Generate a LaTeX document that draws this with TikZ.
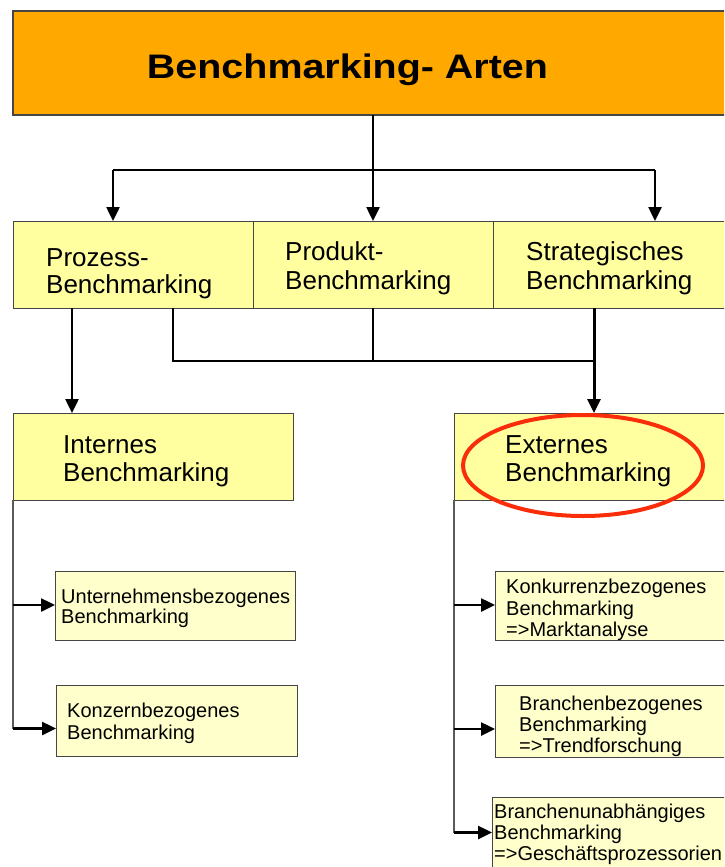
\documentclass[tikz,border=0pt]{standalone}
\usepackage{fontspec}
\setmainfont{Liberation Sans}
\usetikzlibrary{arrows.meta,shapes.geometric}
\definecolor{orangeT}{RGB}{255,168,0}
\definecolor{yelM}{RGB}{255,255,160}
\definecolor{yelS}{RGB}{255,255,204}
\definecolor{hlred}{RGB}{250,45,10}
\definecolor{bord}{RGB}{70,70,70}
\definecolor{sidegray}{RGB}{90,90,90}
\begin{document}
\begin{tikzpicture}[x=1pt,y=-1pt,
  box/.style={draw=bord, line width=1pt, rectangle, anchor=north west, inner sep=0pt, outer sep=0pt},
  midbox/.style={box, fill=yelM},
  smallbox/.style={box, fill=yelS},
  bigtxt/.style={anchor=base west, inner sep=0pt, font=\fontsize{26}{28}\selectfont},
  smalltxt/.style={anchor=base west, inner sep=0pt, font=\fontsize{20}{21}\selectfont},
  stem/.style={line width=1.5pt, black},
  conn/.style={line width=2pt, black},
  side/.style={line width=1.5pt, sidegray},
  arr/.style={line width=2.5pt, black, -{Triangle[length=14pt,width=13pt]}},
  heavyarr/.style={line width=3pt, black, -{Triangle[length=14pt,width=13pt]}}
]
\useasboundingbox (0,0) rectangle (724,867);
\clip (0,0) rectangle (724,867);

% title
\node[box, draw=bord, line width=1.5pt, fill=orangeT, minimum width=720pt, minimum height=104pt] (title) at (13,11) {};
\node[anchor=base, inner sep=0pt, font=\fontsize{34}{40}\selectfont\bfseries] (titleT) at (347.5,78) {\scalebox{1.16}[1]{Benchmarking- Arten}};

% middle row
\node[midbox, minimum width=240pt, minimum height=87pt] (proz) at (13,221) {};
\node[midbox, minimum width=240pt, minimum height=87pt] (prod) at (253,221) {};
\node[midbox, minimum width=240pt, minimum height=87pt] (strat) at (493,221) {};
\node[bigtxt] (prozA) at (46,266) {Prozess-};
\node[bigtxt] (prozB) at (46,293.5) {Benchmarking};
\node[bigtxt] (prodA) at (285,260) {Produkt-};
\node[bigtxt] (prodB) at (285,289) {Benchmarking};
\node[bigtxt] (stratA) at (526,260) {Strategisches};
\node[bigtxt] (stratB) at (526,289) {Benchmarking};

% intern / extern
\node[midbox, minimum width=280pt, minimum height=87pt] (intern) at (13,413) {};
\node[midbox, minimum width=300pt, minimum height=87pt] (extern) at (454,413) {};
\node[bigtxt] (internA) at (63,453) {Internes};
\node[bigtxt] (internB) at (63,481.7) {Benchmarking};
\node[bigtxt] (externA) at (505,453) {Externes};
\node[bigtxt] (externB) at (505,481.7) {Benchmarking};
\node[draw=hlred, ellipse, line width=4pt, minimum width=240pt, minimum height=101pt, inner sep=0pt] (hl) at (583,465.5) {};

% small boxes
\node[smallbox, minimum width=240pt, minimum height=69pt] (unt) at (55,571) {};
\node[smallbox, minimum width=241pt, minimum height=71pt] (konz) at (56,685) {};
\node[smallbox, minimum width=240pt, minimum height=69pt] (konk) at (495,571) {};
\node[smallbox, minimum width=240pt, minimum height=72pt] (bran) at (495,685) {};
\node[smallbox, minimum width=240pt, minimum height=80pt] (unab) at (492,797) {};

\node[smalltxt] (untA) at (61,603.3) {Unternehmensbezogenes};
\node[smalltxt] (untB) at (61,623.5) {Benchmarking};
\node[smalltxt] (konzA) at (67,717) {Konzernbezogenes};
\node[smalltxt] (konzB) at (67,739) {Benchmarking};
\node[smalltxt] (konkA) at (506,593) {Konkurrenzbezogenes};
\node[smalltxt] (konkB) at (506,615) {Benchmarking};
\node[smalltxt] (konkC) at (506,636) {=>Marktanalyse};
\node[smalltxt] (branA) at (519,710) {Branchenbezogenes};
\node[smalltxt] (branB) at (519,731.7) {Benchmarking};
\node[smalltxt] (branC) at (519,752.7) {=>Trendforschung};
\node[smalltxt] (unabA) at (494,818) {Branchenunabhängiges};
\node[smalltxt] (unabB) at (494,839) {Benchmarking};
\node[smalltxt] (unabC) at (494,860.5) {=>Geschäftsprozessorien};

% top connectors
\coordinate (jT) at (373,170);
\coordinate (jL) at (113,170);
\coordinate (jR) at (655,170);
\draw[stem] (title.south) -- (jT);
\draw[conn] (jL) -- (jR);
\draw[arr] (jL) -- (jL |- proz.north);
\draw[arr] (jT) -- (prod.north);
\draw[arr] (jR) -- (jR |- strat.north);

% middle connectors
\coordinate (xA) at (72,0);
\coordinate (bL) at (173,361);
\coordinate (bR) at (594,361);
\draw[arr] (xA |- proz.south) -- (xA |- intern.north);
\draw[conn] (bL |- proz.south) -- (bL) -- (bR);
\draw[stem] (prod.south) -- (prod.south |- bR);
\draw[heavyarr] (bR |- strat.south) -- (bR |- extern.north);

% left branch
\coordinate (l1) at (13,605);
\coordinate (l2) at (13,728.5);
\draw[side] (intern.south west) -- (l2);
\draw[arr] (l1) -- (l1 -| unt.west);
\draw[arr] (l2) -- (l2 -| konz.west);

% right branch
\coordinate (r1) at (454,605);
\coordinate (r2) at (454,729);
\coordinate (r3) at (454,832.5);
\draw[side] (extern.south west) -- (r3);
\draw[arr] (r1) -- (r1 -| konk.west);
\draw[arr] (r2) -- (r2 -| bran.west);
\draw[arr] (r3) -- (r3 -| unab.west);
\end{tikzpicture}
\end{document}
